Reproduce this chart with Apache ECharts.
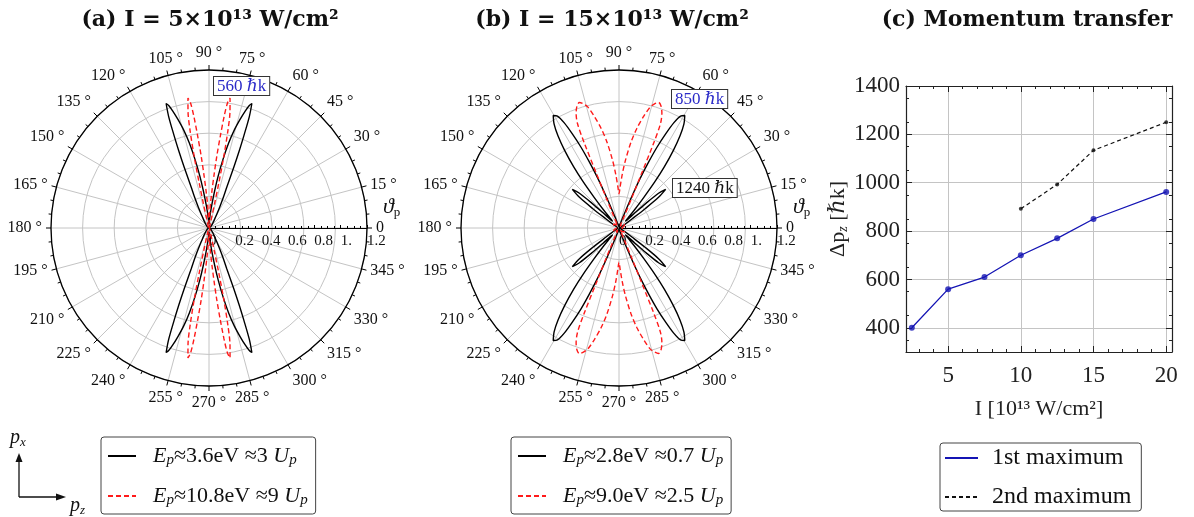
<!DOCTYPE html>
<html><head><meta charset="utf-8">
<script src="https://cdn.jsdelivr.net/npm/echarts@6/dist/echarts.min.js"></script>
<style>html,body{margin:0;padding:0;background:#fff}#c{width:1194px;height:517px}</style>
</head><body><div id="c"></div><script>
// ---------- data ----------
// Angular distributions (one quadrant, [angle in degrees, normalized yield]); the
// patterns are symmetric about the p_z and p_x axes, so the quadrant is reflected.
const aBlackQ = [[0,0.0],[20,0.005],[40,0.02],[50,0.04],[56,0.07],[60,0.11],[63,0.18],[65,0.26],[66.5,0.34],[67.8,0.5],[68.6,0.63],[69.3,0.75],[70.1,0.9],[71,1.0],[71.8,0.98],[72.8,0.93],[74,0.86],[75.5,0.77],[77,0.66],[78.5,0.53],[80,0.4],[81.3,0.29],[83,0.18],[85,0.1],[87,0.05],[90,0.03]];
const aRedQ = [[0,0.0],[40,0.005],[60,0.01],[70,0.02],[74,0.04],[76,0.08],[77,0.18],[77.7,0.35],[78.3,0.55],[79,0.75],[79.8,0.9],[80.8,1.0],[81.6,0.96],[82.3,0.85],[83,0.7],[83.8,0.55],[84.6,0.4],[85.4,0.29],[86.5,0.18],[88,0.08],[90,0.04]];
const bBlackQ = [[0,0.01],[20,0.015],[30,0.03],[33,0.06],[35,0.12],[36.5,0.25],[37.8,0.38],[39.6,0.46],[41.3,0.4],[42.5,0.28],[43.5,0.17],[44.8,0.09],[46.5,0.07],[48,0.1],[49.5,0.18],[51,0.3],[52.3,0.45],[53.5,0.58],[55,0.72],[56.5,0.84],[58,0.93],[59.7,0.99],[61.2,0.97],[62.5,0.9],[63.6,0.8],[64.8,0.68],[65.8,0.55],[66.8,0.42],[67.6,0.3],[68.6,0.18],[70,0.09],[73,0.04],[80,0.02],[90,0.01]];
const bRedQ = [[0,0.02],[20,0.04],[35,0.05],[45,0.04],[55,0.02],[62,0.02],[64,0.03],[66,0.1],[67,0.25],[67.5,0.45],[67.8,0.7],[68.3,0.85],[69.5,0.93],[71,0.98],[72.5,1.0],[74,0.98],[75.5,0.95],[77.5,0.87],[79.8,0.77],[82,0.66],[84.5,0.52],[86.5,0.41],[88.5,0.31],[90,0.26]];

// Momentum transfer
const intensity1 = [2.5, 5, 7.5, 10, 12.5, 15, 20];
const firstMax   = [400, 560, 610, 700, 770, 850, 962];
const intensity2 = [10, 12.5, 15, 20];
const secondMax  = [892, 993, 1134, 1250];
const xMajorTicks = [5, 10, 15, 20];
const xMinorTicks = [3,4,5,6,7,8,9,10,11,12,13,14,15,16,17,18,19,20];
const yMajorTicks = [400, 600, 800, 1000, 1200, 1400];

const titles = ['(a) I = 5×10¹³ W/cm²', '(b) I = 15×10¹³ W/cm²', '(c) Momentum transfer'];
const legendNames = {
  aBlack: '{f|E}{s|p}{n|≈3.6eV ≈3}{i| U}{s|p}',
  aRed:   '{f|E}{s|p}{n|≈10.8eV ≈9}{i| U}{s|p}',
  bBlack: '{f|E}{s|p}{n|≈2.8eV ≈0.7}{i| U}{s|p}',
  bRed:   '{f|E}{s|p}{n|≈9.0eV ≈2.5}{i| U}{s|p}',
  c1: '{t|1st maximum}', c2: '{t|2nd maximum}'
};

// ---------- helpers ----------
function fullLoop(q){
  const out=[];
  q.forEach(p=>out.push([p[1],p[0]]));
  for(let i=q.length-2;i>=0;i--) out.push([q[i][1],180-q[i][0]]);
  for(let i=1;i<q.length;i++) out.push([q[i][1],180+q[i][0]]);
  for(let i=q.length-2;i>=0;i--) out.push([q[i][1],360-q[i][0]]);
  return out;
}
const SERIF = "'Liberation Serif','DejaVu Serif',serif";
const GRID = '#c4c4c4';
const rich = {
  f:{fontFamily:SERIF,fontStyle:'italic',fontSize:22,color:'#111',padding:[0,0,0,12]},
  i:{fontFamily:SERIF,fontStyle:'italic',fontSize:22,color:'#111'},
  n:{fontFamily:SERIF,fontSize:22,color:'#111'},
  s:{fontFamily:SERIF,fontStyle:'italic',fontSize:15,color:'#111',padding:[9,0,0,0]}
};
const richC = {t:{fontFamily:SERIF,fontSize:24,color:'#111',padding:[0,0,0,9]}};

function gridAngle(i){return {polarIndex:i,type:'value',min:0,max:360,interval:15,startAngle:0,clockwise:false,
  axisLine:{show:false},
  axisTick:{show:true,length:5,lineStyle:{color:'#000'}},
  minorTick:{show:true,splitNumber:3,length:3,lineStyle:{color:'#000'}},
  axisLabel:{show:true,margin:9,fontFamily:SERIF,fontSize:16,color:'#111',
    formatter:v=>v===0?'0':(v===360?'':v+' °')},
  splitLine:{show:true,lineStyle:{color:GRID,width:1}}};}
function topAngle(i){return {polarIndex:i,type:'value',min:0,max:360,startAngle:0,clockwise:false,
  axisLine:{show:true,lineStyle:{color:'#000',width:1.3}},axisTick:{show:false},axisLabel:{show:false},splitLine:{show:false}};}
function gridRadius(i){return {polarIndex:i,type:'value',min:0,max:1,interval:0.2,
  axisLine:{show:false},axisTick:{show:false},axisLabel:{show:false},
  splitLine:{show:true,lineStyle:{color:GRID,width:1}}};}
function labelRadius(i){return {polarIndex:i,type:'value',min:0,max:1.2,interval:0.2,
  axisLine:{show:true,lineStyle:{color:'#000',width:1}},
  axisTick:{show:true,length:3,lineStyle:{color:'#000'}},
  minorTick:{show:true,splitNumber:4,length:2,lineStyle:{color:'#000'}},
  axisLabel:{show:true,fontFamily:SERIF,fontSize:15,color:'#111',margin:-6,align:'left',verticalAlign:'top',
    formatter:v=>v===1?'1.':String(+v.toFixed(1))},
  splitLine:{show:false}};}

const polarLine = (name, idx, q, color, dashed) => ({
  name, type:'line', coordinateSystem:'polar', polarIndex:idx, data:fullLoop(q),
  symbol:'none', smooth:0.3, z:5,
  lineStyle:{color, width:1.4, type: dashed?[5,3]:'solid'}, itemStyle:{color}
});
const TITLE_STYLE = {fontFamily:"'DejaVu Serif',serif",fontWeight:'bold',fontSize:22,color:'#111'};
const polarLegend = (names, left) => ({data:names,orient:'vertical',left,top:437,height:84,padding:[8,8,6,6],itemGap:17,
  itemWidth:28,itemHeight:14,borderColor:'#444',borderWidth:1,borderRadius:3,formatter:n=>legendNames[n],
  textStyle:{rich},selectedMode:false,itemStyle:{opacity:0}});

const chart = echarts.init(document.getElementById('c'), null, {renderer:'canvas'});
const option = {
  animation:false,
  backgroundColor:'#fff',
  title: [
    {text:titles[0], left:205, top:4, textAlign:'center', textStyle:TITLE_STYLE},
    {text:titles[1], left:607, top:4, textAlign:'center', textStyle:TITLE_STYLE},
    {text:titles[2], left:1022, top:4, textAlign:'center', textStyle:TITLE_STYLE}
  ],
  polar: [
    {center:[209,228],radius:158},{center:[209,228],radius:158},
    {center:[619,228],radius:158},{center:[619,228],radius:158}
  ],
  angleAxis: [gridAngle(0), topAngle(1), gridAngle(2), topAngle(3)],
  radiusAxis: [gridRadius(0), labelRadius(1), gridRadius(2), labelRadius(3)],
  grid: {left:906, top:86, width:266, height:266, containLabel:false},
  xAxis: [
    {type:'value',position:'bottom',min:2.1,max:20.4,
      axisLine:{show:true,onZero:false,lineStyle:{color:'#222',width:1.2}},
      axisTick:{show:true,inside:true,length:6,customValues:xMajorTicks,lineStyle:{color:'#222'}},
      axisLabel:{show:true,customValues:xMajorTicks,fontFamily:SERIF,fontSize:23,color:'#222',margin:12},
      splitLine:{show:true,lineStyle:{color:GRID,width:1}},
      name:'I [10¹³ W/cm²]',nameLocation:'middle',nameGap:46,
      nameTextStyle:{fontFamily:SERIF,fontSize:22,color:'#222'}},
    {type:'value',position:'bottom',min:2.1,max:20.4,
      axisLine:{show:false,onZero:false},axisTick:{show:true,inside:true,length:3,customValues:xMinorTicks,lineStyle:{color:'#222'}},
      axisLabel:{show:false},splitLine:{show:false}},
    {type:'value',position:'top',min:2.1,max:20.4,
      axisLine:{show:true,onZero:false,lineStyle:{color:'#222',width:1.2}},
      axisTick:{show:true,inside:true,length:6,customValues:xMajorTicks,lineStyle:{color:'#222'}},
      axisLabel:{show:false},splitLine:{show:false}},
    {type:'value',position:'top',min:2.1,max:20.4,
      axisLine:{show:false,onZero:false},axisTick:{show:true,inside:true,length:3,customValues:xMinorTicks,lineStyle:{color:'#222'}},
      axisLabel:{show:false},splitLine:{show:false}}
  ],
  yAxis: [
    {type:'value',position:'left',min:300,max:1400,interval:100,
      axisLine:{show:true,onZero:false,lineStyle:{color:'#222',width:1.2}},
      axisTick:{show:true,inside:true,length:6,customValues:yMajorTicks,lineStyle:{color:'#222'}},
      minorTick:{show:true,splitNumber:2,length:3,lineStyle:{color:'#222'}},
      axisLabel:{show:true,customValues:yMajorTicks,fontFamily:SERIF,fontSize:23,color:'#222',margin:6,formatter:v=>String(v)},
      splitLine:{show:true,lineStyle:{color:GRID,width:1}},
      name:'{n|Δp}{s|z}{n| [ℏk]}',nameLocation:'middle',nameGap:46,nameRotate:90,
      nameTextStyle:{rich:{n:{fontFamily:SERIF,fontSize:22,color:'#222'},s:{fontFamily:SERIF,fontStyle:'italic',fontSize:14,color:'#222',padding:[10,0,0,0]}}}},
    {type:'value',position:'right',min:300,max:1400,interval:100,
      axisLine:{show:true,onZero:false,lineStyle:{color:'#222',width:1.2}},
      axisTick:{show:true,inside:true,length:6,customValues:yMajorTicks,lineStyle:{color:'#222'}},
      minorTick:{show:true,splitNumber:2,length:3,lineStyle:{color:'#222'}},
      axisLabel:{show:false},splitLine:{show:false}}
  ],
  legend: [
    polarLegend(['aBlack','aRed'], 101),
    polarLegend(['bBlack','bRed'], 511),
    {data:['c1','c2'],orient:'vertical',left:940,top:443,height:74,padding:[3,10,2,4],itemGap:15,itemWidth:33,itemHeight:14,
      borderColor:'#444',borderWidth:1,borderRadius:3,formatter:n=>legendNames[n],
      textStyle:{rich:richC},selectedMode:false,itemStyle:{opacity:0}}
  ],
  series: [
    polarLine('aBlack',1,aBlackQ,'#000',false),
    polarLine('aRed',1,aRedQ,'#ff1a1a',true),
    polarLine('bBlack',3,bBlackQ,'#000',false),
    polarLine('bRed',3,bRedQ,'#ff1a1a',true),
    {name:'c1',type:'line',xAxisIndex:0,yAxisIndex:0,data:intensity1.map((x,i)=>[x,firstMax[i]]),
      symbol:'none',lineStyle:{color:'#1414b4',width:1.3},itemStyle:{color:'#1414b4'},z:4},
    {name:'c1pts',type:'scatter',xAxisIndex:0,yAxisIndex:0,data:intensity1.map((x,i)=>[x,firstMax[i]]),
      symbolSize:6,itemStyle:{color:'#1414b4'},z:5},
    {name:'c2',type:'line',xAxisIndex:0,yAxisIndex:0,data:intensity2.map((x,i)=>[x,secondMax[i]]),
      symbol:'none',lineStyle:{color:'#111',width:1.2,type:[4,3]},itemStyle:{color:'#111'},z:4},
    {name:'c2pts',type:'scatter',xAxisIndex:0,yAxisIndex:0,data:intensity2.map((x,i)=>[x,secondMax[i]]),
      symbolSize:4,itemStyle:{color:'#111'},z:5}
  ],
  graphic: [
    {type:'text',left:213,top:76,z:20,style:{text:'560 ℏk',font:"17px 'Liberation Serif','DejaVu Serif',serif",fill:'#2a2ac8',
      backgroundColor:'#fff',borderColor:'#333',borderWidth:1,padding:[1,3,0,3]}},
    {type:'text',left:671,top:89,z:20,style:{text:'850 ℏk',font:"17px 'Liberation Serif','DejaVu Serif',serif",fill:'#2a2ac8',
      backgroundColor:'#fff',borderColor:'#333',borderWidth:1,padding:[1,3,0,3]}},
    {type:'text',left:672,top:178,z:20,style:{text:'1240 ℏk',font:"17px 'Liberation Serif','DejaVu Serif',serif",fill:'#111',
      backgroundColor:'#fff',borderColor:'#333',borderWidth:1,padding:[1,3,0,3]}},
    {type:'text',left:383,top:196,z:20,style:{text:'{t|ϑ}{s|p}',rich:{t:{font:"italic 22px 'Liberation Serif','DejaVu Serif',serif",fill:'#111'},s:{font:"13px 'Liberation Serif',serif",fill:'#111',padding:[12,0,0,0]}}}},
    {type:'text',left:793,top:196,z:20,style:{text:'{t|ϑ}{s|p}',rich:{t:{font:"italic 22px 'Liberation Serif','DejaVu Serif',serif",fill:'#111'},s:{font:"13px 'Liberation Serif',serif",fill:'#111',padding:[12,0,0,0]}}}},
    {type:'line',shape:{x1:19,y1:497,x2:19,y2:461},style:{stroke:'#111',lineWidth:1.3}},
    {type:'polygon',shape:{points:[[19,453],[15.5,462],[22.5,462]]},style:{fill:'#111'}},
    {type:'line',shape:{x1:19,y1:497,x2:57,y2:497},style:{stroke:'#111',lineWidth:1.3}},
    {type:'polygon',shape:{points:[[66,497],[56,493.5],[56,500.5]]},style:{fill:'#111'}},
    {type:'text',left:10,top:428,style:{text:'{i|p}{s|x}',rich:{i:{font:"italic 20px 'Liberation Serif',serif",fill:'#111'},s:{font:"italic 13px 'Liberation Serif',serif",fill:'#111',padding:[9,0,0,0]}}}},
    {type:'text',left:70,top:496,style:{text:'{i|p}{s|z}',rich:{i:{font:"italic 20px 'Liberation Serif',serif",fill:'#111'},s:{font:"italic 13px 'Liberation Serif',serif",fill:'#111',padding:[9,0,0,0]}}}}
  ]
};
chart.setOption(option);
</script></body></html>
